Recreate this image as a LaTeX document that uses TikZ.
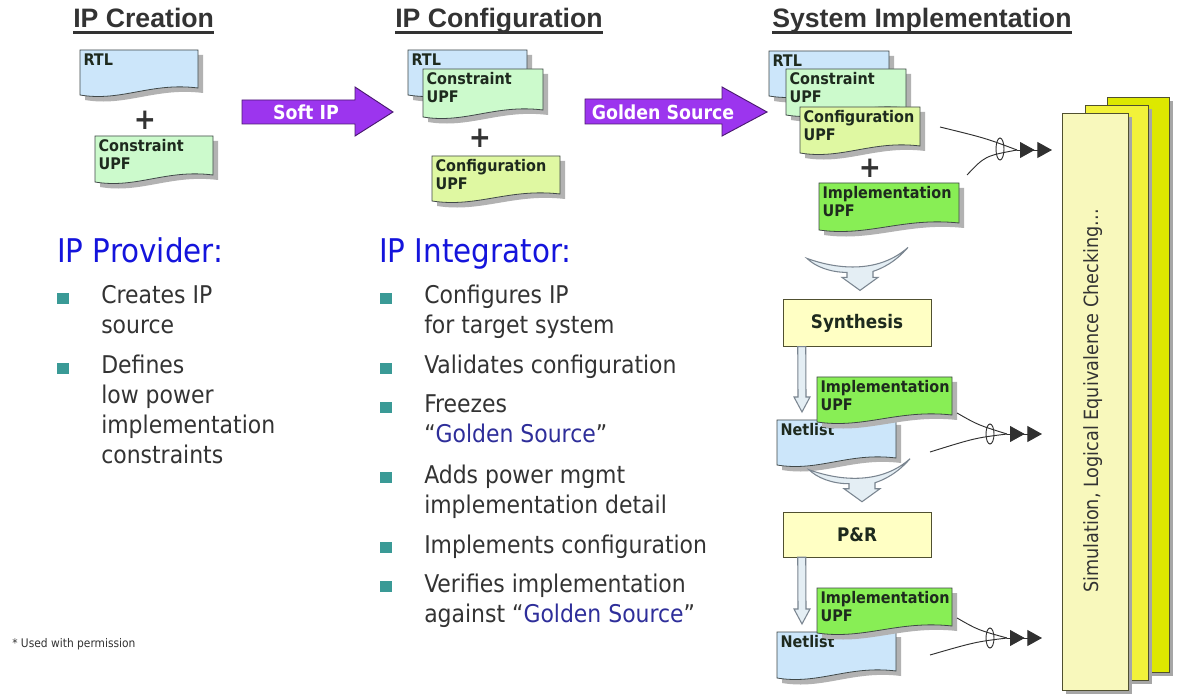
\documentclass[tikz,border=0pt]{standalone}
\usepackage{fontspec}
\setmainfont{DejaVu Sans Condensed}
\newfontfamily\headfont{Liberation Sans}
\usetikzlibrary{arrows.meta,calc}

\definecolor{rtlblue}{HTML}{CCE6FA}
\definecolor{conupf}{HTML}{CCFACC}
\definecolor{cfgupf}{HTML}{DFF8A2}
\definecolor{impupf}{HTML}{88EE55}
\definecolor{docline}{HTML}{404848}
\definecolor{labeltext}{HTML}{1E2A1E}
\definecolor{synthyellow}{HTML}{FFFFC4}
\definecolor{boxline}{HTML}{505030}
\definecolor{arrowpurple}{HTML}{9C35EE}
\definecolor{arrowline}{HTML}{4A1A70}
\definecolor{itemteal}{HTML}{3A9A96}
\definecolor{roleblue}{HTML}{1414DC}
\definecolor{goldblue}{HTML}{2E2E9A}
\definecolor{bodygray}{HTML}{333333}
\definecolor{headgray}{HTML}{333333}
\definecolor{chevfill}{HTML}{E4EEF4}
\definecolor{chevline}{HTML}{7A8590}
\definecolor{feedgray}{HTML}{303030}
\definecolor{checkback}{HTML}{DDE800}
\definecolor{checkmid}{HTML}{F2F23A}
\definecolor{checkfront}{HTML}{F8F8BC}

\tikzset{
  doclabel/.style={anchor=north west, inner sep=2.5pt, align=left, text=labeltext,
    font=\bfseries\fontsize{12pt}{13.5pt}\selectfont},
  docshadow/.style={fill=black!30},
  stepbox/.style={draw=boxline, fill=synthyellow, minimum width=111pt, minimum height=35pt,
    font=\bfseries\fontsize{14pt}{16pt}\selectfont, text=labeltext},
  heading/.style={anchor=base west, inner sep=0pt, text=headgray,
    font=\headfont\bfseries\fontsize{20pt}{24pt}\selectfont},
  role/.style={anchor=base west, inner sep=0pt, text=roleblue, font=\fontsize{24.5pt}{28pt}\selectfont},
  item/.style={anchor=base west, inner sep=0pt, align=left, text=bodygray,
    font=\fontsize{18.3pt}{22.5pt}\selectfont},
  plus/.style={text=headgray, font=\bfseries\fontsize{22pt}{24pt}\selectfont},
  arrowtext/.style={text=white, font=\bfseries\fontsize{14.5pt}{16pt}\selectfont},
  feedline/.style={draw=feedgray, line width=0.7pt},
  feedtip/.style={draw=feedgray, line width=0.7pt,
    -{Triangle[length=11pt,width=12pt,sep=2pt]Triangle[length=11pt,width=12pt]}},
}

\newcommand{\docsheet}[7]{%
  \fill[docshadow] ({#2+5},{#3+5}) -- ({#2+#4+5},{#3+5}) -- ({#2+#4+5},{#3+#5-2})
    .. controls ({#2+0.6*#4+5},{#3+#5-8}) and ({#2+0.35*#4+5},{#3+#5+12}) .. ({#2+5},{#3+#5+5}) -- cycle;
  \filldraw[fill=#6, draw=docline, line width=0.6pt] (#2,#3) -- ({#2+#4},#3) -- ({#2+#4},{#3+#5-7})
    .. controls ({#2+0.6*#4},{#3+#5-13}) and ({#2+0.35*#4},{#3+#5+7}) .. (#2,{#3+#5}) -- cycle;
  \node[doclabel] (#1) at (#2,#3) {#7};
}
\newcommand{\chevron}[1]{%
  \filldraw[fill=chevfill, draw=chevline, line width=0.8pt] ($(#1)+(-53,-32)$)
    .. controls ($(#1)+(-20,-20)$) and ($(#1)+(20,-18)$) .. ($(#1)+(48,-43)$)
    .. controls ($(#1)+(35,-28)$) and ($(#1)+(22,-22)$) .. ($(#1)+(13,-19)$)
    -- ($(#1)+(13,-13)$) -- ($(#1)+(18,-13)$) -- (#1) -- ($(#1)+(-18,-13)$) -- ($(#1)+(-13,-13)$)
    -- ($(#1)+(-13,-18)$) .. controls ($(#1)+(-30,-18)$) and ($(#1)+(-45,-24)$) .. ($(#1)+(-53,-32)$) -- cycle;
}
\newcommand{\hollowdown}[2]{%
  \filldraw[fill=chevfill, draw=chevline, line width=0.8pt] ($(#1)+(-4,0)$) -- ($(#2)+(-4,-15)$)
    -- ($(#2)+(-8,-15)$) -- (#2) -- ($(#2)+(8,-15)$) -- ($(#2)+(4,-15)$) -- ($(#1)+(4,0)$) -- cycle;
}

\begin{document}
\begin{tikzpicture}[x=0.75pt,y=-0.75pt]
\useasboundingbox (0,0) rectangle (1182,698);
\fill[white] (0,0) rectangle (1182,698);

\node[heading] (hcreate) at (73,28) {IP Creation};
\node[heading] (hconfig) at (395,28) {IP Configuration};
\node[heading] (hsystem) at (772,28) {System Implementation};
\draw[headgray, line width=1.9pt] ([yshift=-3.4pt]hcreate.base west) -- ([yshift=-3.4pt]hcreate.base east);
\draw[headgray, line width=1.9pt] ([yshift=-3.4pt]hconfig.base west) -- ([yshift=-3.4pt]hconfig.base east);
\draw[headgray, line width=1.9pt] ([yshift=-3.4pt]hsystem.base west) -- ([yshift=-3.4pt]hsystem.base east);

\docsheet{rtla}{80}{50}{118}{45}{rtlblue}{RTL}
\node[plus] (plusa) at (145,120) {+};
\docsheet{cona}{95}{136}{118}{46}{conupf}{Constraint\\UPF}

\filldraw[fill=arrowpurple, draw=arrowline, line width=0.7pt] (242,100) -- (355,100) -- (355,87) -- (393,112)
  -- (355,136) -- (355,124) -- (242,124) -- cycle;
\node[arrowtext] (softip) at (306,112) {Soft IP};

\docsheet{rtlb}{408}{50}{119}{45}{rtlblue}{RTL}
\docsheet{conb}{423}{69}{120}{48}{conupf}{Constraint\\UPF}
\node[plus] (plusb) at (480,138) {+};
\docsheet{cfgb}{432}{156}{128}{45}{cfgupf}{Configuration\\UPF}

\filldraw[fill=arrowpurple, draw=arrowline, line width=0.7pt] (585,99) -- (722,99) -- (722,87) -- (767,112)
  -- (722,136) -- (722,124) -- (585,124) -- cycle;
\node[arrowtext] (golden) at (663,112) {Golden Source};

\docsheet{rtlc}{769}{51}{120}{45}{rtlblue}{RTL}
\docsheet{conc}{786}{69}{120}{46}{conupf}{Constraint\\UPF}
\docsheet{cfgc}{800}{107}{120}{46}{cfgupf}{Configuration\\UPF}
\node[plus] (plusc) at (870,168) {+};
\docsheet{impa}{819}{183}{140}{47}{impupf}{Implementation\\UPF}

\node[stepbox] (synth) at (857,323) {Synthesis};
\node[stepbox, minimum height=33.75pt] (pnr) at (857,534.5) {P\&R};

\coordinate (cheva) at ($(synth.north)+(3,-9)$);
\chevron{cheva}

\docsheet{neta}{777}{420}{119}{45}{rtlblue}{Netlist}
\docsheet{impb}{817}{377}{135}{45}{impupf}{Implementation\\UPF}
\coordinate (synthout) at ($(synth.south west)+(19,0)$);
\coordinate (netain) at ($(neta.north west)+(25,-8)$);
\hollowdown{synthout}{netain}

\coordinate (chevb) at ($(pnr.north)+(5,-10)$);
\chevron{chevb}

\docsheet{netb}{777}{632}{119}{46}{rtlblue}{Netlist}
\docsheet{impc}{817}{588}{135}{45}{impupf}{Implementation\\UPF}
\coordinate (pnrout) at ($(pnr.south west)+(19,0)$);
\coordinate (netbin) at ($(netb.north west)+(25,-8)$);
\hollowdown{pnrout}{netbin}

\fill[black!35] (1111,101) rectangle (1173,676);
\filldraw[fill=checkback, draw=boxline, line width=0.6pt] (1107,97) rectangle (1169,672);
\fill[black!35] (1089,109) rectangle (1152,684);
\filldraw[fill=checkmid, draw=boxline, line width=0.6pt] (1085,105) rectangle (1148,680);
\fill[black!35] (1066,117) rectangle (1132,694);
\filldraw[fill=checkfront, draw=boxline, line width=0.6pt] (1062,113) rectangle (1128,690);
\node[rotate=90, text=bodygray, font=\fontsize{14.7pt}{16pt}\selectfont] (check) at (1093,401)
  {Simulation, Logical Equivalence Checking...};

\coordinate (cfgfeed) at (940,127);
\coordinate (impfeed) at (967,175);
\coordinate (joina) at (1017,150);
\coordinate (checka) at (1052,150);
\draw[feedline] (cfgfeed) .. controls (985,138) .. (joina);
\draw[feedline] (impfeed) .. controls (985,156) .. (joina);
\draw[feedline] (1000,149) ellipse (4 and 11);
\draw[feedtip] (joina) -- (checka);

\coordinate (impbfeed) at (957,413);
\coordinate (netafeed) at (930,452);
\coordinate (joinb) at (1007,434);
\coordinate (checkb) at (1042,434);
\draw[feedline] (impbfeed) .. controls (978,425) .. (joinb);
\draw[feedline] (netafeed) .. controls (975,438) .. (joinb);
\draw[feedline] (990,434) ellipse (4 and 10);
\draw[feedtip] (joinb) -- (checkb);

\coordinate (impcfeed) at (957,618);
\coordinate (netbfeed) at (930,655);
\coordinate (joinc) at (1007,638);
\coordinate (checkc) at (1042,638);
\draw[feedline] (impcfeed) .. controls (978,630) .. (joinc);
\draw[feedline] (netbfeed) .. controls (975,642) .. (joinc);
\draw[feedline] (990,638) ellipse (4 and 10);
\draw[feedtip] (joinc) -- (checkc);

\node[role] (provider) at (57,263) {IP Provider:};
\fill[itemteal] (57,293) rectangle (69,304);
\node[item] (pa) at (101,334) {Creates IP\\source};
\fill[itemteal] (57,363) rectangle (69,374);
\node[item] (pb) at (101,464) {Defines\\low power\\implementation\\constraints};

\node[role] (integrator) at (379,263) {IP Integrator:};
\fill[itemteal] (380,293) rectangle (392,304);
\node[item] (ia) at (424,334) {Configures IP\\for target system};
\fill[itemteal] (380,363) rectangle (392,374);
\node[item] (ib) at (424,374) {Validates configuration};
\fill[itemteal] (380,402) rectangle (392,413);
\node[item] (ic) at (424,443) {Freezes\\“\textcolor{goldblue}{Golden Source}”};
\fill[itemteal] (380,472) rectangle (392,483);
\node[item] (id) at (424,513) {Adds power mgmt\\implementation detail};
\fill[itemteal] (380,542) rectangle (392,553);
\node[item] (ie) at (424,553) {Implements configuration};
\fill[itemteal] (380,581) rectangle (392,592);
\node[item] (if) at (424,622) {Verifies implementation\\against “\textcolor{goldblue}{Golden Source}”};

\node[anchor=base west, inner sep=0pt, text=bodygray, font=\fontsize{8.9pt}{10pt}\selectfont] (permit) at (12,647)
  {* Used with permission};
\end{tikzpicture}
\end{document}
